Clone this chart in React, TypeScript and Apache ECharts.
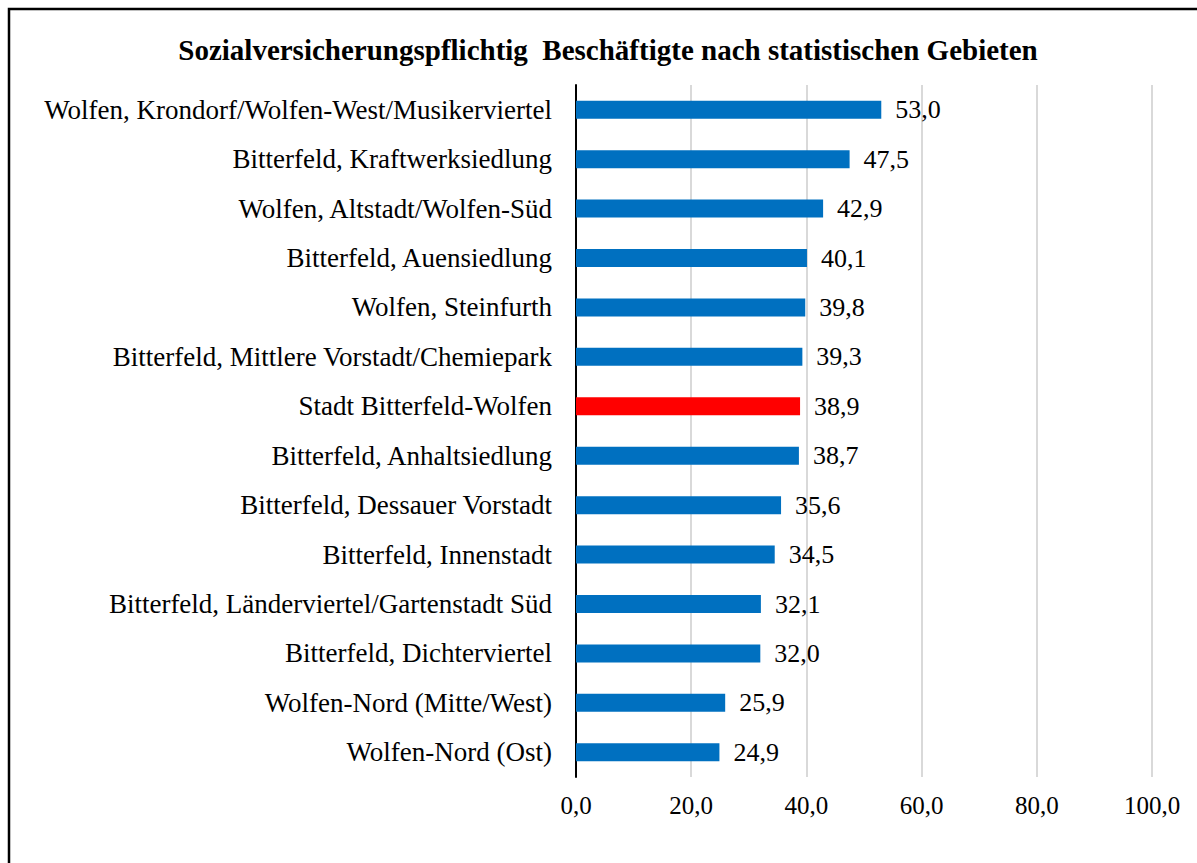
import React, { useEffect, useRef } from "react";
import * as echarts from "echarts";

const TITLE = "Sozialversicherungspflichtig  Beschäftigte nach statistischen Gebieten";

const categories = [
  "Wolfen, Krondorf/Wolfen-West/Musikerviertel",
  "Bitterfeld, Kraftwerksiedlung",
  "Wolfen, Altstadt/Wolfen-Süd",
  "Bitterfeld, Auensiedlung",
  "Wolfen, Steinfurth",
  "Bitterfeld, Mittlere Vorstadt/Chemiepark",
  "Stadt Bitterfeld-Wolfen",
  "Bitterfeld, Anhaltsiedlung",
  "Bitterfeld, Dessauer Vorstadt",
  "Bitterfeld, Innenstadt",
  "Bitterfeld, Länderviertel/Gartenstadt Süd",
  "Bitterfeld, Dichterviertel",
  "Wolfen-Nord (Mitte/West)",
  "Wolfen-Nord (Ost)",
];

const values = [53.0, 47.5, 42.9, 40.1, 39.8, 39.3, 38.9, 38.7, 35.6, 34.5, 32.1, 32.0, 25.9, 24.9];

const highlighted = ["Stadt Bitterfeld-Wolfen"];

const xTicks = { min: 0, max: 100, interval: 20 };

const fmt = (v: number) => v.toFixed(1).replace(".", ",");

export default function App() {
  const ref = useRef<HTMLDivElement>(null);
  useEffect(() => {
    if (!ref.current) return;
    const chart = echarts.init(ref.current, null, { renderer: "svg" });
    const font = "'Liberation Serif', 'Times New Roman', serif";
    chart.setOption({
      animation: false,
      backgroundColor: "#ffffff",
      textStyle: { fontFamily: font },
      title: {
        text: TITLE,
        left: 603,
        top: 30,
        textAlign: "center",
        textStyle: { fontFamily: font, fontSize: 29, fontWeight: "bold", color: "#000" },
      },
      graphic: [
        {
          type: "polyline",
          shape: { points: [[9, 900], [9, 9], [1300, 9]] },
          style: { stroke: "#000", lineWidth: 2.5, fill: "none" },
          silent: true,
        },
      ],
      grid: { left: 576, right: 45, top: 85, height: 692, containLabel: false },
      xAxis: {
        type: "value",
        min: xTicks.min,
        max: xTicks.max,
        interval: xTicks.interval,
        axisLine: { show: false },
        axisTick: { show: false },
        splitLine: { show: true, lineStyle: { color: "#d9d9d9", width: 2 } },
        axisLabel: {
          formatter: (v: number) => fmt(v),
          fontFamily: font,
          fontSize: 25,
          color: "#000",
          margin: 16,
        },
      },
      yAxis: {
        type: "category",
        data: categories,
        inverse: true,
        axisLine: { show: true, lineStyle: { color: "#000", width: 2 } },
        axisTick: { show: false },
        axisLabel: { fontFamily: font, fontSize: 27, color: "#000", margin: 24 },
      },
      series: [
        {
          type: "bar",
          data: values.map((v, i) => ({
            value: v,
            itemStyle: { color: highlighted.includes(categories[i]) ? "#ff0000" : "#0070c0" },
          })),
          barWidth: 18,
          label: {
            show: true,
            position: "right",
            distance: 14,
            formatter: (p: any) => fmt(p.value),
            fontFamily: font,
            fontSize: 26,
            color: "#000",
          },
        },
      ],
    });
    return () => chart.dispose();
  }, []);
  return (
    <div
      ref={ref}
      style={{ position: "fixed", left: 0, top: 0, width: 1197, height: 863 }}
    />
  );
}
